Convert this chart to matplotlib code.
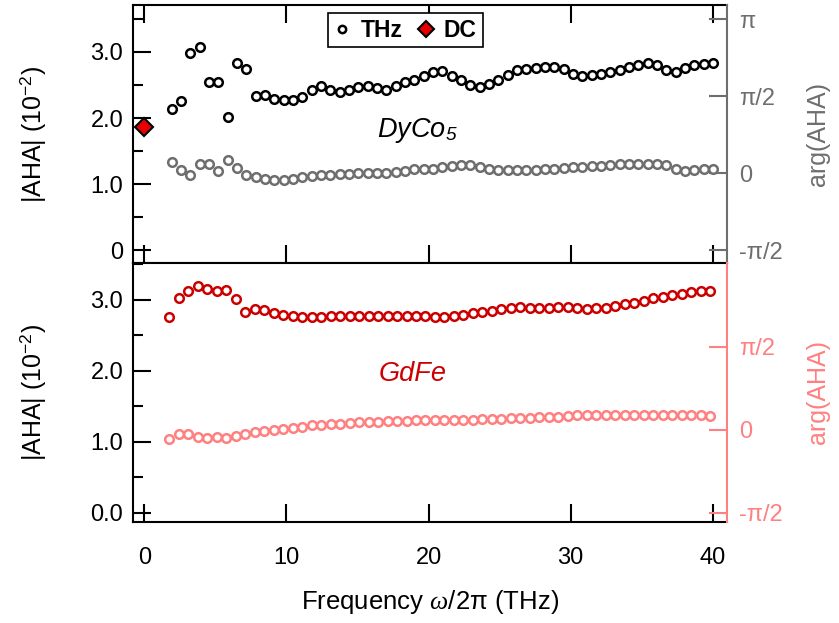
import matplotlib
matplotlib.use('Agg')
import matplotlib.pyplot as plt
import numpy as np
from matplotlib.ticker import MultipleLocator

plt.rcParams['font.family'] = ['Liberation Sans', 'DejaVu Sans']
plt.rcParams['mathtext.fontset'] = 'custom'
plt.rcParams['mathtext.rm'] = 'Liberation Sans'
plt.rcParams['mathtext.it'] = 'Liberation Serif:italic'
plt.rcParams['mathtext.sf'] = 'Liberation Sans:italic'

# DyCo5 (top panel)
freq_dyco = [1.92, 2.58, 3.23, 3.89, 4.55, 5.20, 5.86, 6.52, 7.17, 7.83, 8.49, 9.14, 9.80, 10.46,
             11.11, 11.77, 12.43, 13.08, 13.74, 14.40, 15.05, 15.71, 16.37, 17.02, 17.68, 18.34,
             18.99, 19.65, 20.30, 20.96, 21.62, 22.27, 22.93, 23.59, 24.24, 24.90, 25.56, 26.21,
             26.87, 27.53, 28.18, 28.84, 29.50, 30.15, 30.81, 31.47, 32.12, 32.78, 33.44, 34.09,
             34.75, 35.41, 36.06, 36.72, 37.38, 38.03, 38.69, 39.35, 40.00]
amp_dyco = [2.14, 2.26, 2.99, 3.07, 2.55, 2.55, 2.02, 2.83, 2.75, 2.34, 2.35, 2.29, 2.28, 2.28,
            2.32, 2.42, 2.48, 2.43, 2.39, 2.43, 2.47, 2.49, 2.46, 2.43, 2.49, 2.55, 2.58, 2.64,
            2.70, 2.71, 2.63, 2.57, 2.50, 2.47, 2.51, 2.58, 2.65, 2.72, 2.74, 2.76, 2.78, 2.78,
            2.74, 2.66, 2.64, 2.65, 2.67, 2.70, 2.73, 2.77, 2.81, 2.83, 2.80, 2.73, 2.70, 2.76,
            2.80, 2.82, 2.83]
arg_dyco = [0.23, 0.07, -0.03, 0.18, 0.18, 0.05, 0.26, 0.11, -0.03, -0.08, -0.12, -0.13, -0.13,
            -0.11, -0.08, -0.05, -0.04, -0.03, -0.01, -0.01, 0.00, 0.00, 0.01, 0.01, 0.03, 0.05,
            0.08, 0.08, 0.09, 0.13, 0.15, 0.16, 0.16, 0.12, 0.08, 0.07, 0.07, 0.07, 0.07, 0.07,
            0.08, 0.09, 0.11, 0.12, 0.13, 0.15, 0.15, 0.16, 0.18, 0.18, 0.19, 0.19, 0.19, 0.16,
            0.08, 0.05, 0.07, 0.08, 0.09]
dc_freq = [0.0]
dc_amp = [1.87]

# GdFe (bottom panel)
freq_gdfe = [1.76, 2.43, 3.10, 3.76, 4.43, 5.10, 5.76, 6.43, 7.10, 7.77, 8.43, 9.10, 9.77, 10.44,
             11.10, 11.77, 12.44, 13.11, 13.77, 14.44, 15.11, 15.78, 16.44, 17.11, 17.78, 18.45,
             19.11, 19.78, 20.45, 21.11, 21.78, 22.45, 23.12, 23.78, 24.45, 25.12, 25.79, 26.45,
             27.12, 27.79, 28.46, 29.12, 29.79, 30.46, 31.13, 31.79, 32.46, 33.13, 33.80, 34.46,
             35.13, 35.80, 36.47, 37.13, 37.80, 38.47, 39.14, 39.80]
amp_gdfe = [2.76, 3.02, 3.12, 3.19, 3.16, 3.13, 3.14, 3.01, 2.83, 2.87, 2.86, 2.82, 2.79, 2.77,
            2.76, 2.76, 2.76, 2.77, 2.77, 2.78, 2.78, 2.78, 2.78, 2.78, 2.78, 2.77, 2.77, 2.77,
            2.76, 2.76, 2.77, 2.79, 2.81, 2.83, 2.85, 2.87, 2.89, 2.90, 2.89, 2.89, 2.89, 2.90,
            2.90, 2.88, 2.87, 2.88, 2.89, 2.92, 2.94, 2.96, 2.99, 3.02, 3.04, 3.07, 3.09, 3.11,
            3.12, 3.12]
arg_gdfe = [-0.17, -0.08, -0.09, -0.14, -0.16, -0.14, -0.16, -0.12, -0.09, -0.04, -0.02, 0.00,
            0.02, 0.04, 0.06, 0.08, 0.09, 0.10, 0.11, 0.12, 0.14, 0.14, 0.15, 0.16, 0.16, 0.17,
            0.18, 0.19, 0.18, 0.18, 0.19, 0.19, 0.19, 0.20, 0.20, 0.21, 0.22, 0.22, 0.23, 0.24,
            0.24, 0.25, 0.26, 0.27, 0.27, 0.27, 0.27, 0.27, 0.27, 0.27, 0.27, 0.27, 0.27, 0.27,
            0.27, 0.27, 0.27, 0.26]

phase_ticks = [-np.pi / 2, 0, np.pi / 2, np.pi]
phase_labels = ['-π/2', '0', 'π/2', 'π']

c_black = '#000000'
c_gray = '#6e6e6e'
c_red = '#cc0000'
c_pink = '#ff8080'

fig = plt.figure(figsize=(8.39, 6.23), dpi=100)
L, W = 133 / 839, 594 / 839
ax1 = fig.add_axes([L, 1 - 263 / 623, W, 258 / 623])
ax2 = fig.add_axes([L, 1 - 522 / 623, W, 259 / 623], sharex=ax1)
ax1r = ax1.twinx()
ax2r = ax2.twinx()

mk = dict(ls='none', marker='o', ms=6.2, mew=1.8, mfc='white')
ax1.plot(freq_dyco, amp_dyco, color=c_black, mec=c_black, label='THz', **mk)
ax1.plot(dc_freq, dc_amp, ls='none', marker='D', ms=9, mfc='#e60000', mec='black', mew=1.5,
         label='DC', clip_on=False, zorder=5)
ax1r.plot(freq_dyco, arg_dyco, color=c_gray, mec=c_gray, **mk)
ax2.plot(freq_gdfe, amp_gdfe, color=c_red, mec=c_red, **mk)
ax2r.plot(freq_gdfe, arg_gdfe, color=c_pink, mec=c_pink, **mk)

ax1.set_xlim(-0.8, 41)
ax1.set_ylim(-0.19, 3.71)
ax1r.set_ylim(-1.83, 3.43)
ax2.set_ylim(-0.13, 3.52)
ax2r.set_ylim(-1.75, 3.16)

tick_fs = 17
label_fs = 18
for ax in (ax1, ax2):
    ax.xaxis.set_major_locator(MultipleLocator(10))
    ax.yaxis.set_minor_locator(MultipleLocator(0.5))
    ax.tick_params(axis='both', which='major', direction='in', length=13, width=1.5,
                   labelsize=tick_fs)
    ax.tick_params(axis='y', which='major', pad=7)
    ax.tick_params(axis='x', which='major', pad=18)
    ax.tick_params(axis='y', which='minor', direction='in', length=7, width=1.5)
    ax.tick_params(axis='y', right=False)
    ax.spines['right'].set_visible(False)
    for s in ('left', 'top', 'bottom'):
        ax.spines[s].set_linewidth(1.5)
    ax.set_ylabel('|AHA| (10$^{-2}$)', fontsize=label_fs)
    ax.yaxis.set_label_coords(-0.143, 0.5)

ax1.tick_params(axis='x', top=True, labelbottom=False)
ax2.tick_params(axis='x', top=False)
ax1.set_yticks([0, 1, 2, 3])
ax1.set_yticklabels(['0', '1.0', '2.0', '3.0'])
ax2.set_yticks([0, 1, 2, 3])
ax2.set_yticklabels(['0.0', '1.0', '2.0', '3.0'])

for axr, col, ticks, labels in ((ax1r, c_gray, phase_ticks, phase_labels),
                                (ax2r, c_pink, phase_ticks[:3], phase_labels[:3])):
    axr.set_yticks(ticks)
    axr.set_yticklabels(labels)
    axr.tick_params(axis='y', direction='in', length=13, width=1.5, colors=col,
                    labelsize=tick_fs, pad=9)
    for s in ('left', 'top', 'bottom'):
        axr.spines[s].set_visible(False)
    axr.spines['right'].set_color(col)
    axr.spines['right'].set_linewidth(1.5)
    axr.set_ylabel('arg(AHA)', fontsize=label_fs, color=col)
    axr.yaxis.set_label_coords(1.133, 0.5)

ax2.set_xlabel('Frequency $\\omega$/2π (THz)', fontsize=18.5, labelpad=14)

ax1.text(19.2, 1.82, 'DyCo$_\\mathsf{5}$', fontsize=19.5, style='italic', ha='center', va='center')
ax2.text(18.9, 1.96, 'GdFe', fontsize=19.5, style='italic', color=c_red, ha='center', va='center')

leg = ax1.legend(loc='upper center', bbox_to_anchor=(0.458, 0.969), borderaxespad=0, ncol=2,
                 frameon=True, fancybox=False, framealpha=1, edgecolor='black', handlelength=0.8,
                 handletextpad=0.4, columnspacing=0.6, borderpad=0.25, markerscale=0.85,
                 prop={'weight': 'bold', 'size': 16.5})
leg.get_frame().set_linewidth(1.2)

fig.savefig('out.png', dpi=100)
